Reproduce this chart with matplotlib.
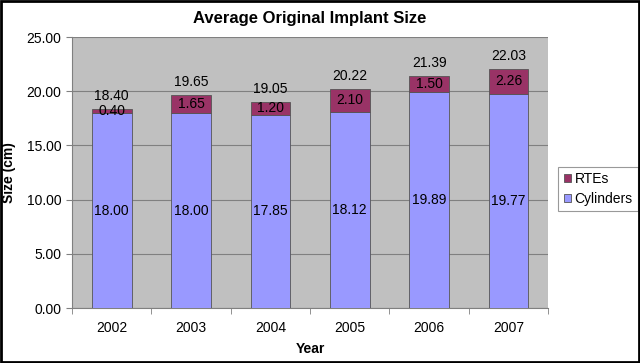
import matplotlib
matplotlib.use("Agg")
import matplotlib.pyplot as plt
import numpy as np

plt.rcParams['font.family'] = ['Liberation Sans', 'DejaVu Sans']

years = ['2002', '2003', '2004', '2005', '2006', '2007']
cylinders = [18.00, 18.00, 17.85, 18.12, 19.89, 19.77]
rtes = [0.40, 1.65, 1.20, 2.10, 1.50, 2.26]
totals = [18.40, 19.65, 19.05, 20.22, 21.39, 22.03]

fig = plt.figure(figsize=(6.4, 3.63), dpi=100)
ax = fig.add_axes([0.1125, 0.151, 0.744, 0.747])
ax.set_facecolor('#c0c0c0')

x = np.arange(len(years))
w = 0.5
b1 = ax.bar(x, cylinders, w, color='#9999ff', edgecolor='#555555', linewidth=0.6, label='Cylinders', zorder=3)
b2 = ax.bar(x, rtes, w, bottom=cylinders, color='#993366', edgecolor='#555555', linewidth=0.6, label='RTEs', zorder=3)

for i in range(len(years)):
    ax.text(x[i], cylinders[i] / 2, '%.2f' % cylinders[i], ha='center', va='center', fontsize=10, zorder=4)
    ax.text(x[i], cylinders[i] + rtes[i] / 2, '%.2f' % rtes[i], ha='center', va='center', fontsize=10, zorder=4)
    ax.text(x[i], totals[i] + 0.55, '%.2f' % totals[i], ha='center', va='bottom', fontsize=10, zorder=4)

ax.set_xlim(-0.5, len(years) - 0.5)
ax.set_ylim(0, 25)
ax.set_yticks(np.arange(0, 25.01, 5))
ax.set_yticklabels(['%.2f' % v for v in np.arange(0, 25.01, 5)], fontsize=10)
ax.yaxis.grid(True, color='#808080', linewidth=0.8, zorder=0)
ax.set_axisbelow(True)

ax.set_xticks(x)
ax.set_xticklabels(years, fontsize=10)
ax.set_xticks(np.arange(-0.5, len(years)), minor=True)
ax.tick_params(axis='x', which='major', length=0, pad=9)
ax.tick_params(axis='x', which='minor', length=4, color='#808080')
ax.tick_params(axis='y', length=4, color='#808080')

for s in ['top', 'right']:
    ax.spines[s].set_visible(False)
ax.spines['left'].set_color('#808080')
ax.spines['bottom'].set_color('#808080')

ax.set_title('Average Original Implant Size', fontsize=12, fontweight='bold', pad=10)
ax.set_xlabel('Year', fontsize=10, fontweight='bold', labelpad=5)
ax.set_ylabel('Size (cm)', fontsize=10, fontweight='bold', labelpad=8)

leg = ax.legend(handles=[b2, b1], loc='center left', bbox_to_anchor=(1.015, 0.44),
                fontsize=10, frameon=True, fancybox=False, edgecolor='#808080',
                handlelength=0.5, handleheight=0.5, handletextpad=0.3, borderpad=0.4,
                borderaxespad=0.2, labelspacing=0.4)
leg.get_frame().set_linewidth(0.8)

fig.patches.append(plt.Rectangle((0.002, 0.003), 0.996, 0.994, transform=fig.transFigure,
                                 fill=False, edgecolor='black', linewidth=2))

fig.savefig('out.png', dpi=100)
